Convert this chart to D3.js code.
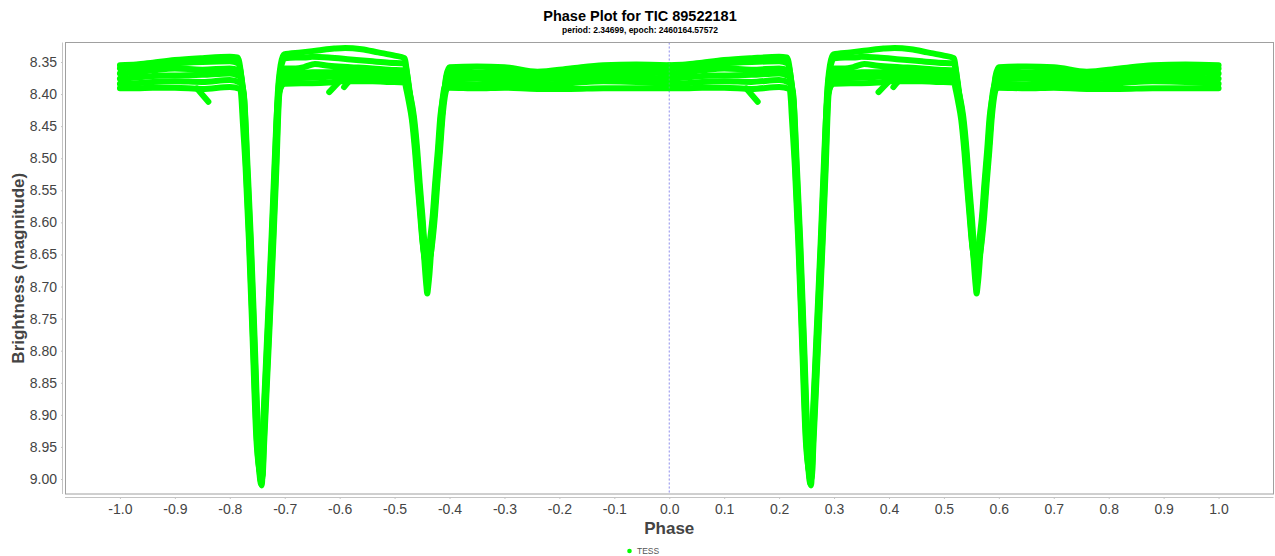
<!DOCTYPE html>
<html><head><meta charset="utf-8">
<script src="https://cdn.jsdelivr.net/npm/d3@7"></script>
<style>html,body{margin:0;padding:0;background:#fff;}svg{display:block;}</style>
</head><body>
<script>
// ---- data: phased light curve strands (phase 0..1, magnitude), plotted at phase and phase-1 ----
const title = "Phase Plot for TIC 89522181";
const subtitle = "period: 2.34699, epoch: 2460164.57572";
const seriesName = "TESS";
const xTicks = [-1.0,-0.9,-0.8,-0.7,-0.6,-0.5,-0.4,-0.3,-0.2,-0.1,0.0,0.1,0.2,0.3,0.4,0.5,0.6,0.7,0.8,0.9,1.0];
const yTicks = [8.35,8.40,8.45,8.50,8.55,8.60,8.65,8.70,8.75,8.80,8.85,8.90,8.95,9.00];

const strand1 = [[0.000,8.355],[0.030,8.354],[0.060,8.351],[0.100,8.347],[0.150,8.344],[0.200,8.342],[0.214,8.343],
 [0.2205,8.370],[0.2236,8.400],[0.2296,8.515],[0.2356,8.628],[0.2425,8.785],[0.2493,8.939],[0.2533,8.985],[0.2569,9.008],
 [0.2602,8.939],[0.2684,8.785],[0.2766,8.628],[0.2820,8.515],[0.2873,8.400],[0.2925,8.355],[0.2985,8.338],
 [0.330,8.335],[0.360,8.332],[0.390,8.329],[0.410,8.328],[0.440,8.330],[0.470,8.335],[0.500,8.340],[0.518,8.344],
 [0.5230,8.370],[0.5268,8.400],[0.5328,8.435],[0.5388,8.487],[0.5433,8.539],[0.5483,8.591],[0.5525,8.635],[0.5562,8.660],
 [0.5598,8.666],[0.5635,8.658],[0.5672,8.630],[0.5718,8.591],[0.5765,8.539],[0.5815,8.487],[0.5862,8.435],[0.5902,8.400],
 [0.5940,8.372],[0.600,8.358],[0.650,8.357],[0.700,8.358],[0.760,8.365],[0.820,8.360],[0.880,8.355],[0.940,8.354],[1.000,8.355]];
const strand2 = [[0.000,8.360],[0.030,8.358],[0.060,8.355],[0.100,8.352],[0.150,8.350],[0.200,8.349],[0.215,8.352],
 [0.2215,8.375],[0.2242,8.400],[0.2302,8.515],[0.2362,8.628],[0.2431,8.785],[0.2499,8.939],[0.2539,8.985],[0.2575,9.004],
 [0.2608,8.939],[0.2690,8.785],[0.2772,8.628],[0.2826,8.515],[0.2879,8.400],[0.2930,8.360],[0.300,8.344],
 [0.320,8.343],[0.335,8.343],[0.350,8.342],[0.380,8.343],[0.420,8.346],[0.460,8.349],[0.490,8.351],[0.518,8.352],
 [0.5240,8.375],[0.5280,8.400],[0.5340,8.435],[0.5400,8.487],[0.5445,8.539],[0.5495,8.591],[0.5535,8.635],[0.5570,8.657],
 [0.5605,8.662],[0.5640,8.655],[0.5675,8.630],[0.5720,8.591],[0.5765,8.539],[0.5815,8.487],[0.5860,8.435],[0.5900,8.400],
 [0.5940,8.375],[0.600,8.363],[0.650,8.366],[0.700,8.364],[0.760,8.367],[0.820,8.362],[0.880,8.362],[0.940,8.360],[1.000,8.360]];
const strand3 = [[0.000,8.368],[0.030,8.366],[0.060,8.363],[0.100,8.360],[0.150,8.362],[0.200,8.360],[0.216,8.363],
 [0.2222,8.380],[0.2248,8.400],[0.2308,8.515],[0.2368,8.628],[0.2437,8.785],[0.2505,8.939],[0.2545,8.985],[0.2581,9.010],
 [0.2614,8.939],[0.2696,8.785],[0.2778,8.628],[0.2832,8.515],[0.2885,8.400],[0.2935,8.368],[0.300,8.360],
 [0.320,8.360],[0.335,8.358],[0.355,8.353],[0.380,8.356],[0.420,8.358],[0.460,8.360],[0.490,8.362],[0.518,8.363],
 [0.5240,8.380],[0.5275,8.400],[0.5335,8.440],[0.5390,8.490],[0.5440,8.545],[0.5490,8.600],[0.5530,8.645],[0.5560,8.680],
 [0.5580,8.700],[0.5595,8.711],[0.5612,8.700],[0.5635,8.680],[0.5665,8.645],[0.5710,8.600],[0.5755,8.545],[0.5805,8.490],
 [0.5855,8.440],[0.5895,8.405],[0.5935,8.382],[0.600,8.370],[0.650,8.369],[0.700,8.371],[0.760,8.372],[0.820,8.369],
 [0.880,8.368],[0.940,8.366],[1.000,8.368]];
const strand4 = [[0.000,8.376],[0.030,8.374],[0.060,8.372],[0.100,8.371],[0.150,8.370],[0.200,8.368],[0.217,8.372],
 [0.2230,8.388],[0.2256,8.400],[0.2316,8.515],[0.2376,8.628],[0.2445,8.785],[0.2513,8.939],[0.2553,8.983],[0.2588,9.000],
 [0.2620,8.939],[0.2704,8.785],[0.2786,8.628],[0.2840,8.515],[0.2893,8.400],[0.2940,8.378],[0.300,8.368],
 [0.330,8.367],[0.350,8.366],[0.380,8.366],[0.400,8.365],[0.430,8.365],[0.460,8.366],[0.490,8.368],[0.518,8.370],
 [0.5222,8.385],[0.5262,8.400],[0.5322,8.435],[0.5382,8.487],[0.5427,8.539],[0.5477,8.591],[0.5517,8.635],[0.5552,8.658],
 [0.5588,8.665],[0.5624,8.657],[0.5660,8.630],[0.5705,8.591],[0.5750,8.539],[0.5800,8.487],[0.5845,8.435],[0.5885,8.400],
 [0.5925,8.385],[0.600,8.377],[0.650,8.376],[0.700,8.378],[0.760,8.377],[0.820,8.375],[0.880,8.374],[0.940,8.374],[1.000,8.376]];
const strand5 = [[0.000,8.384],[0.030,8.383],[0.060,8.381],[0.100,8.380],[0.150,8.381],[0.200,8.378],[0.218,8.382],
 [0.2240,8.395],[0.2264,8.410],[0.2324,8.515],[0.2384,8.628],[0.2453,8.785],[0.2521,8.939],[0.2560,8.980],[0.2595,8.995],
 [0.2628,8.939],[0.2712,8.785],[0.2794,8.628],[0.2848,8.515],[0.2901,8.400],[0.2945,8.385],[0.300,8.376],
 [0.330,8.375],[0.350,8.374],[0.380,8.373],[0.400,8.372],[0.430,8.373],[0.460,8.374],[0.490,8.376],[0.518,8.377],
 [0.5250,8.390],[0.5292,8.405],[0.5352,8.435],[0.5412,8.487],[0.5457,8.539],[0.5507,8.591],[0.5547,8.635],[0.5582,8.655],
 [0.5617,8.660],[0.5652,8.652],[0.5688,8.630],[0.5733,8.591],[0.5778,8.539],[0.5828,8.487],[0.5873,8.435],[0.5913,8.405],
 [0.5950,8.390],[0.600,8.384],[0.650,8.385],[0.700,8.384],[0.760,8.385],[0.820,8.383],[0.880,8.380],[0.940,8.381],[1.000,8.384]];
const strand6 = [[0.000,8.391],[0.030,8.391],[0.060,8.390],[0.100,8.390],[0.150,8.392],[0.200,8.389],[0.219,8.392],
 [0.2215,8.410],[0.2228,8.430],[0.2288,8.515],[0.2348,8.628],[0.2417,8.785],[0.2485,8.939],[0.2525,8.978],[0.2562,8.990],
 [0.2594,8.939],[0.2676,8.785],[0.2758,8.628],[0.2812,8.515],[0.2865,8.420],[0.2915,8.392],[0.300,8.384],
 [0.330,8.383],[0.350,8.383],[0.380,8.382],[0.400,8.380],[0.430,8.380],[0.460,8.380],[0.490,8.381],[0.518,8.382],
 [0.5220,8.395],[0.5255,8.410],[0.5315,8.440],[0.5373,8.490],[0.5418,8.539],[0.5468,8.591],[0.5508,8.630],[0.5543,8.650],
 [0.5578,8.655],[0.5613,8.648],[0.5648,8.625],[0.5693,8.591],[0.5738,8.539],[0.5788,8.487],[0.5833,8.435],[0.5873,8.410],
 [0.5915,8.396],[0.600,8.390],[0.650,8.391],[0.700,8.390],[0.760,8.392],[0.820,8.392],[0.880,8.391],[0.940,8.391],[1.000,8.391]];
const tail1 = [[0.140,8.391],[0.150,8.401],[0.161,8.412]];
const tail2 = [[0.381,8.397],[0.390,8.389],[0.399,8.381]];
const tail3 = [[0.408,8.389],[0.414,8.383],[0.421,8.378]];

const strands = [strand1, strand2, strand3, strand4, strand5, strand6, tail1, tail2, tail3];
const cycleOffsets = [-1, 0];

// ---- layout ----
const W = 1275, H = 556;
const plot = {left: 65, right: 1273.5, top: 42.5, bottom: 494};
const green = "#00ff00";
const font = "'Liberation Sans', Arial, sans-serif";

const svg = d3.select("body").append("svg").attr("width", W).attr("height", H)
  .style("font-family", font);
svg.append("rect").attr("width", W).attr("height", H).attr("fill", "#fff");

const x = d3.scaleLinear().domain([-1.1, 1.1]).range([plot.left, plot.right]);
const y = d3.scaleLinear().domain([8.3196, 9.0234]).range([plot.top, plot.bottom]);

// zero marker
svg.append("line").attr("x1", x(0)).attr("x2", x(0)).attr("y1", plot.top).attr("y2", plot.bottom)
  .attr("stroke", "#9a9af0").attr("stroke-width", 1).attr("stroke-dasharray", "2,2");

// data
const line = d3.line().x(d => x(d[0])).y(d => y(d[1])).curve(d3.curveMonotoneX);
const g = svg.append("g");
cycleOffsets.forEach(off => {
  strands.forEach(s => {
    g.append("path").datum(s.map(d => [d[0] + off, d[1]]))
      .attr("d", line).attr("fill", "none").attr("stroke", green)
      .attr("stroke-width", 6).attr("stroke-linejoin", "round").attr("stroke-linecap", "round");
  });
});

// zero marker faint overlay
svg.append("line").attr("x1", x(0)).attr("x2", x(0)).attr("y1", plot.top).attr("y2", plot.bottom)
  .attr("stroke", "#9a9af0").attr("stroke-width", 1).attr("stroke-dasharray", "2,2").attr("opacity", 0.35);

// plot border
svg.append("rect").attr("x", plot.left + 0.5).attr("y", plot.top).attr("width", plot.right - plot.left - 0.5)
  .attr("height", plot.bottom - plot.top).attr("fill", "none").attr("stroke", "#a0a0a0").attr("stroke-width", 1);

// x axis
const xAxis = d3.axisBottom(x).tickValues(xTicks).tickSize(2).tickPadding(5)
  .tickFormat(d => d3.format(".1f")(d).replace("\u2212", "-"));
const xg = svg.append("g").attr("transform", `translate(0,${plot.bottom + 3})`).call(xAxis);
xg.select(".domain").attr("stroke", "#c4c4c4").attr("d", `M${plot.left},0.5H${plot.right}`);
xg.selectAll(".tick line").attr("stroke", "#c4c4c4");
xg.selectAll(".tick text").attr("fill", "#444").style("font-size", "14px").style("font-family", font);

// y axis
const yAxis = d3.axisLeft(y).tickValues(yTicks).tickSize(2).tickPadding(4)
  .tickFormat(d => d3.format(".2f")(d));
const yg = svg.append("g").attr("transform", `translate(${plot.left - 2},0)`).call(yAxis);
yg.select(".domain").attr("stroke", "#c4c4c4").attr("d", `M-0.5,${plot.top}V${plot.bottom}`);
yg.selectAll(".tick line").attr("stroke", "#c4c4c4");
yg.selectAll(".tick text").attr("fill", "#444").style("font-size", "14px").style("font-family", font);

// titles
svg.append("text").attr("x", 640).attr("y", 21).attr("text-anchor", "middle")
  .style("font-size", "14.5px").style("font-weight", "bold").attr("fill", "#000").text(title);
svg.append("text").attr("x", 640).attr("y", 33).attr("text-anchor", "middle")
  .style("font-size", "8.5px").style("font-weight", "bold").attr("fill", "#000").text(subtitle);

// axis labels
svg.append("text").attr("x", (plot.left + plot.right) / 2).attr("y", 534).attr("text-anchor", "middle")
  .style("font-size", "17px").style("font-weight", "bold").attr("fill", "#444").text("Phase");
svg.append("text").attr("transform", `translate(24,${(plot.top + plot.bottom) / 2}) rotate(-90)`)
  .attr("text-anchor", "middle").style("font-size", "17px").style("font-weight", "bold")
  .attr("fill", "#444").text("Brightness (magnitude)");

// legend
svg.append("circle").attr("cx", 629.5).attr("cy", 551).attr("r", 2.3).attr("fill", green);
svg.append("text").attr("x", 637).attr("y", 554).style("font-size", "8.5px").attr("fill", "#555").text(seriesName);
</script>
</body></html>
